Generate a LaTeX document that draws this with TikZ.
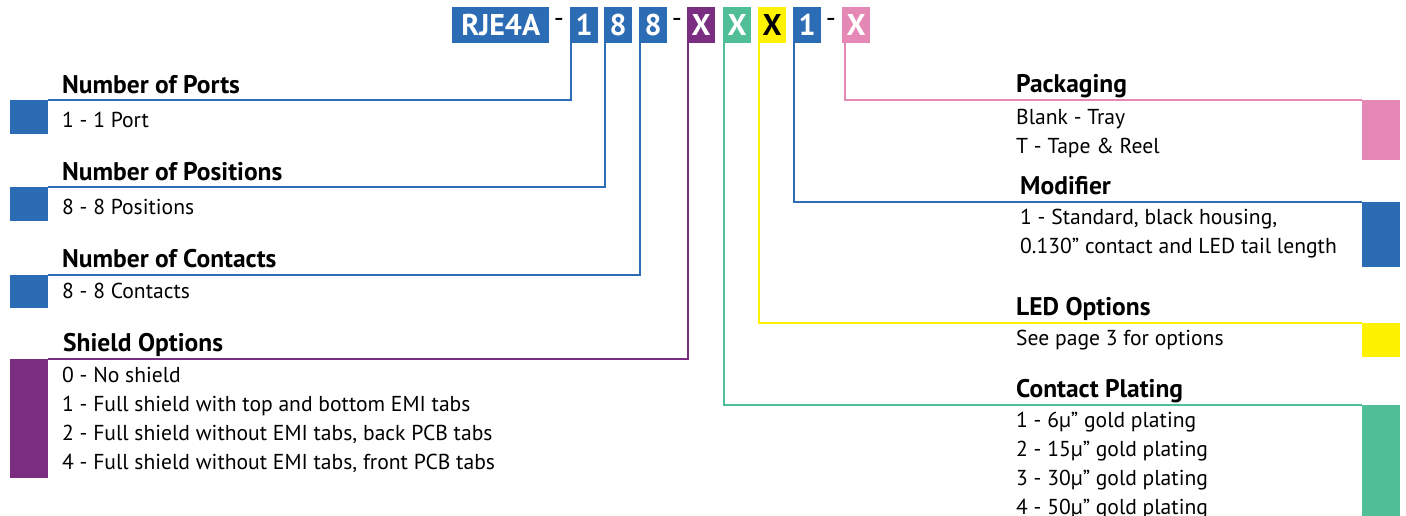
\documentclass[tikz,border=0pt]{standalone}
\usepackage{fontspec}
\setmainfont{PT Sans}

\definecolor{pnblue}{RGB}{43,108,180}
\definecolor{pnpurple}{RGB}{123,45,130}
\definecolor{pngreen}{RGB}{80,190,150}
\definecolor{pnyellow}{RGB}{255,242,0}
\definecolor{pnpink}{RGB}{230,136,182}

\begin{document}
\begin{tikzpicture}[x=1pt, y=-1pt,
  code/.style={fill=#1, text=white, font=\bfseries\fontsize{30}{30}\selectfont,
    anchor=north west, inner sep=0pt, minimum height=36pt, minimum width=28pt},
  sep/.style={font=\fontsize{28}{28}\selectfont, inner sep=0pt},
  tab/.style 2 args={fill=#1, anchor=north west, inner sep=0pt,
    minimum width=38pt, minimum height=#2},
  head/.style={font=\bfseries\fontsize{25.5}{25.5}\selectfont, anchor=base west, inner sep=0pt},
  body/.style={font=\fontsize{21.6}{29}\selectfont, anchor=base west, inner sep=0pt},
  lead/.style={draw=#1, line width=2pt}]
  \useasboundingbox (0,0) rectangle (1406,515);

  % part number
  \node[code=pnblue, minimum width=97pt] (base) at (452,7) {RJE4A};
  \node[sep] (dasha) at (559,23) {-};
  \node[code=pnblue] (ports) at (570,7) {1};
  \node[code=pnblue] (posns) at (604,7) {8};
  \node[code=pnblue] (conts) at (639,7) {8};
  \node[sep] (dashb) at (677,23) {-};
  \node[code=pnpurple] (shield) at (687,7) {X};
  \node[code=pngreen] (plating) at (723,7) {X};
  \node[code=pnyellow, text=black] (led) at (758,7) {X};
  \node[code=pnblue] (modif) at (793,7) {1};
  \node[sep] (dashc) at (831,23) {-};
  \node[code=pnpink] (pack) at (842,7) {X};

  % colour tabs
  \node[tab={pnblue}{34pt}] (tabports) at (10,100) {};
  \node[tab={pnblue}{34pt}] (tabposns) at (10,187) {};
  \node[tab={pnblue}{33pt}] (tabconts) at (10,275) {};
  \node[tab={pnpurple}{119pt}] (tabshield) at (10,359) {};
  \node[tab={pnpink}{60pt}] (tabpack) at (1362,100) {};
  \node[tab={pnblue}{65pt}] (tabmodif) at (1362,202) {};
  \node[tab={pnyellow}{34pt}] (tabled) at (1362,323) {};
  \node[tab={pngreen}{125pt}] (tabplating) at (1362,405) {};

  % leads
  \draw[lead=pnblue] ([xshift=1pt]ports.south west) |- (tabports.north east);
  \draw[lead=pnblue] ([xshift=1pt]posns.south west) |- (tabposns.north east);
  \draw[lead=pnblue] ([xshift=1pt]conts.south west) |- (tabconts.north east);
  \draw[lead=pnpurple] ([xshift=1pt]shield.south west) |- (tabshield.north east);
  \draw[lead=pngreen] ([xshift=1pt]plating.south west) |- (tabplating.north west);
  \draw[lead=pnyellow] ([xshift=1pt]led.south west) |- (tabled.north west);
  \draw[lead=pnblue] ([xshift=1pt]modif.south west) |- (tabmodif.north west);
  \draw[lead=pnpink] ([xshift=3pt]pack.south west) |- (tabpack.north west);

  % left headings and options
  \node[head] (hports) at (62,93) {Number of Ports};
  \node[body] (lports) at (62,127) {1 - 1 Port};
  \node[head] (hposns) at (62,180) {Number of Positions};
  \node[body] (lposns) at (62,214) {8 - 8 Positions};
  \node[head] (hconts) at (62,267) {Number of Contacts};
  \node[body] (lconts) at (62,298) {8 - 8 Contacts};
  \node[head] (hshield) at (63,351) {Shield Options};
  \foreach \ln [count=\i] in {{0 - No shield},
      {1 - Full shield with top and bottom EMI tabs},
      {2 - Full shield without EMI tabs, back PCB tabs},
      {4 - Full shield without EMI tabs, front PCB tabs}}
    \node[body] (lshield-\i) at (62,353+29*\i) {\ln};

  % right headings and options
  \node[head] (hpack) at (1016,92) {Packaging};
  \node[body] (lpack-1) at (1016,124) {Blank - Tray};
  \node[body] (lpack-2) at (1016,153) {T - Tape \& Reel};
  \node[head] (hmodif) at (1020,194) {Modifier};
  \node[body] (lmodif-1) at (1020,224) {1 - Standard, black housing,};
  \node[body] (lmodif-2) at (1020,253) {0.130” contact and LED tail length};
  \node[head] (hled) at (1016,315) {LED Options};
  \node[body] (lled) at (1016,345) {See page 3 for options};
  \node[head] (hplating) at (1016,397) {Contact Plating};
  \foreach \ln [count=\i] in {{1 - 6µ” gold plating}, {2 - 15µ” gold plating},
      {3 - 30µ” gold plating}, {4 - 50µ” gold plating}}
    \node[body] (lplating-\i) at (1016,398+29*\i) {\ln};
\end{tikzpicture}
\end{document}
